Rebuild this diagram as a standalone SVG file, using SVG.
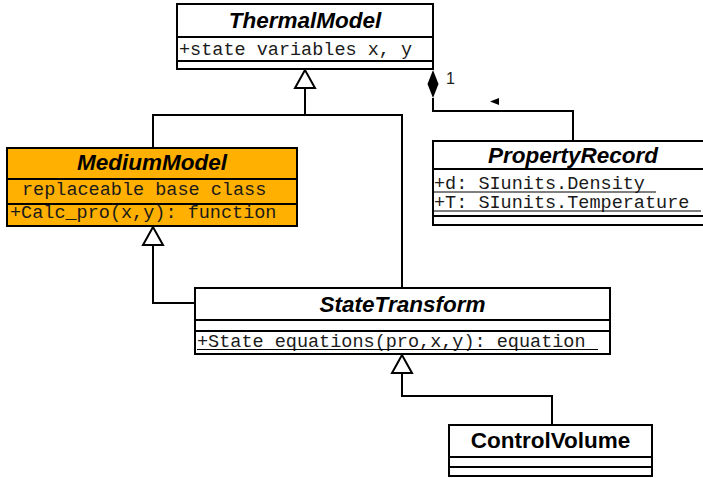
<svg xmlns="http://www.w3.org/2000/svg" width="703" height="478" viewBox="0 0 703 478">
<style>
.box{fill:#fff;stroke:#000;stroke-width:2}
.med{fill:#ffb000;stroke:#000;stroke-width:2}
.sep{stroke:#000;stroke-width:2}
.title{font-family:"Liberation Sans",Arial,sans-serif;font-weight:bold;font-style:italic;font-size:22.5px;text-anchor:middle;fill:#000}
.title2{font-family:"Liberation Sans",Arial,sans-serif;font-weight:bold;font-size:22.5px;text-anchor:middle;fill:#000}
.mono{font-family:"Liberation Mono","Courier New",monospace;font-size:18.5px;fill:#1a1a1a}
.ul{stroke:#000;stroke-width:1}
.conn{fill:none;stroke:#000;stroke-width:2}
.gen{fill:#fff;stroke:#000;stroke-width:2}
.lbl{font-family:"Liberation Sans",Arial,sans-serif;font-size:16px;fill:#222}
</style>
<g id="connectors">
  <polyline class="conn" points="305,88 305,115"/>
  <polyline class="conn" points="153,148 153,115 402,115 402,288"/>
  <polygon class="gen" points="305,70 295,88 315,88"/>
  <polyline class="conn" points="153,245 153,303 195,303"/>
  <polygon class="gen" points="153,227 143,245 163,245"/>
  <polyline class="conn" points="402,373 402,396 552,396 552,425"/>
  <polygon class="gen" points="402,355 392,373 412,373"/>
  <polyline class="conn" points="433,98 433,111 573,111 573,141"/>
  <polygon points="433,70 438.5,84 433,98 427.5,84" fill="#000"/>
  <text class="lbl" x="446" y="84">1</text>
  <polygon points="490,101.5 499,98 499,105" fill="#000"/>
</g>
<g id="ThermalModel">
  <rect class="box" x="177" y="4" width="256" height="65"/>
  <line class="sep" x1="177" y1="37" x2="433" y2="37"/>
  <line class="sep" x1="177" y1="61" x2="433" y2="61"/>
  <text class="title" x="305" y="28">ThermalModel</text>
  <text class="mono" x="179" y="55">+state variables x, y</text>
</g>
<g id="MediumModel">
  <rect class="med" x="7" y="148" width="290" height="78"/>
  <line class="sep" x1="7" y1="179" x2="297" y2="179"/>
  <line class="sep" x1="7" y1="204" x2="297" y2="204"/>
  <text class="title" x="152" y="170">MediumModel</text>
  <text class="mono" x="22" y="195">replaceable base class</text>
  <text class="mono" x="10" y="218">+Calc_pro(x,y): function</text>
</g>
<g id="PropertyRecord">
  <rect class="box" x="433" y="141" width="280" height="84"/>
  <line class="sep" x1="433" y1="169" x2="713" y2="169"/>
  <line class="sep" x1="433" y1="216" x2="713" y2="216"/>
  <text class="title" x="573" y="163">PropertyRecord</text>
  <text class="mono" x="434" y="189">+d: SIunits.Density</text>
  <line class="ul" x1="434" y1="192" x2="656" y2="192"/>
  <text class="mono" x="434" y="208">+T: SIunits.Temperature</text>
  <line class="ul" x1="434" y1="211" x2="701" y2="211"/>
</g>
<g id="StateTransform">
  <rect class="box" x="195" y="288" width="415" height="66"/>
  <line class="sep" x1="195" y1="320" x2="610" y2="320"/>
  <line class="sep" x1="195" y1="331" x2="610" y2="331"/>
  <text class="title" x="402.5" y="312">StateTransform</text>
  <text class="mono" x="197" y="347">+State equations(pro,x,y): equation</text>
  <line class="ul" x1="197" y1="349.5" x2="598" y2="349.5"/>
</g>
<g id="ControlVolume">
  <rect class="box" x="449" y="425" width="203" height="51"/>
  <line class="sep" x1="449" y1="457" x2="652" y2="457"/>
  <line class="sep" x1="449" y1="467" x2="652" y2="467"/>
  <text class="title2" x="550.5" y="448">ControlVolume</text>
</g>
</svg>
